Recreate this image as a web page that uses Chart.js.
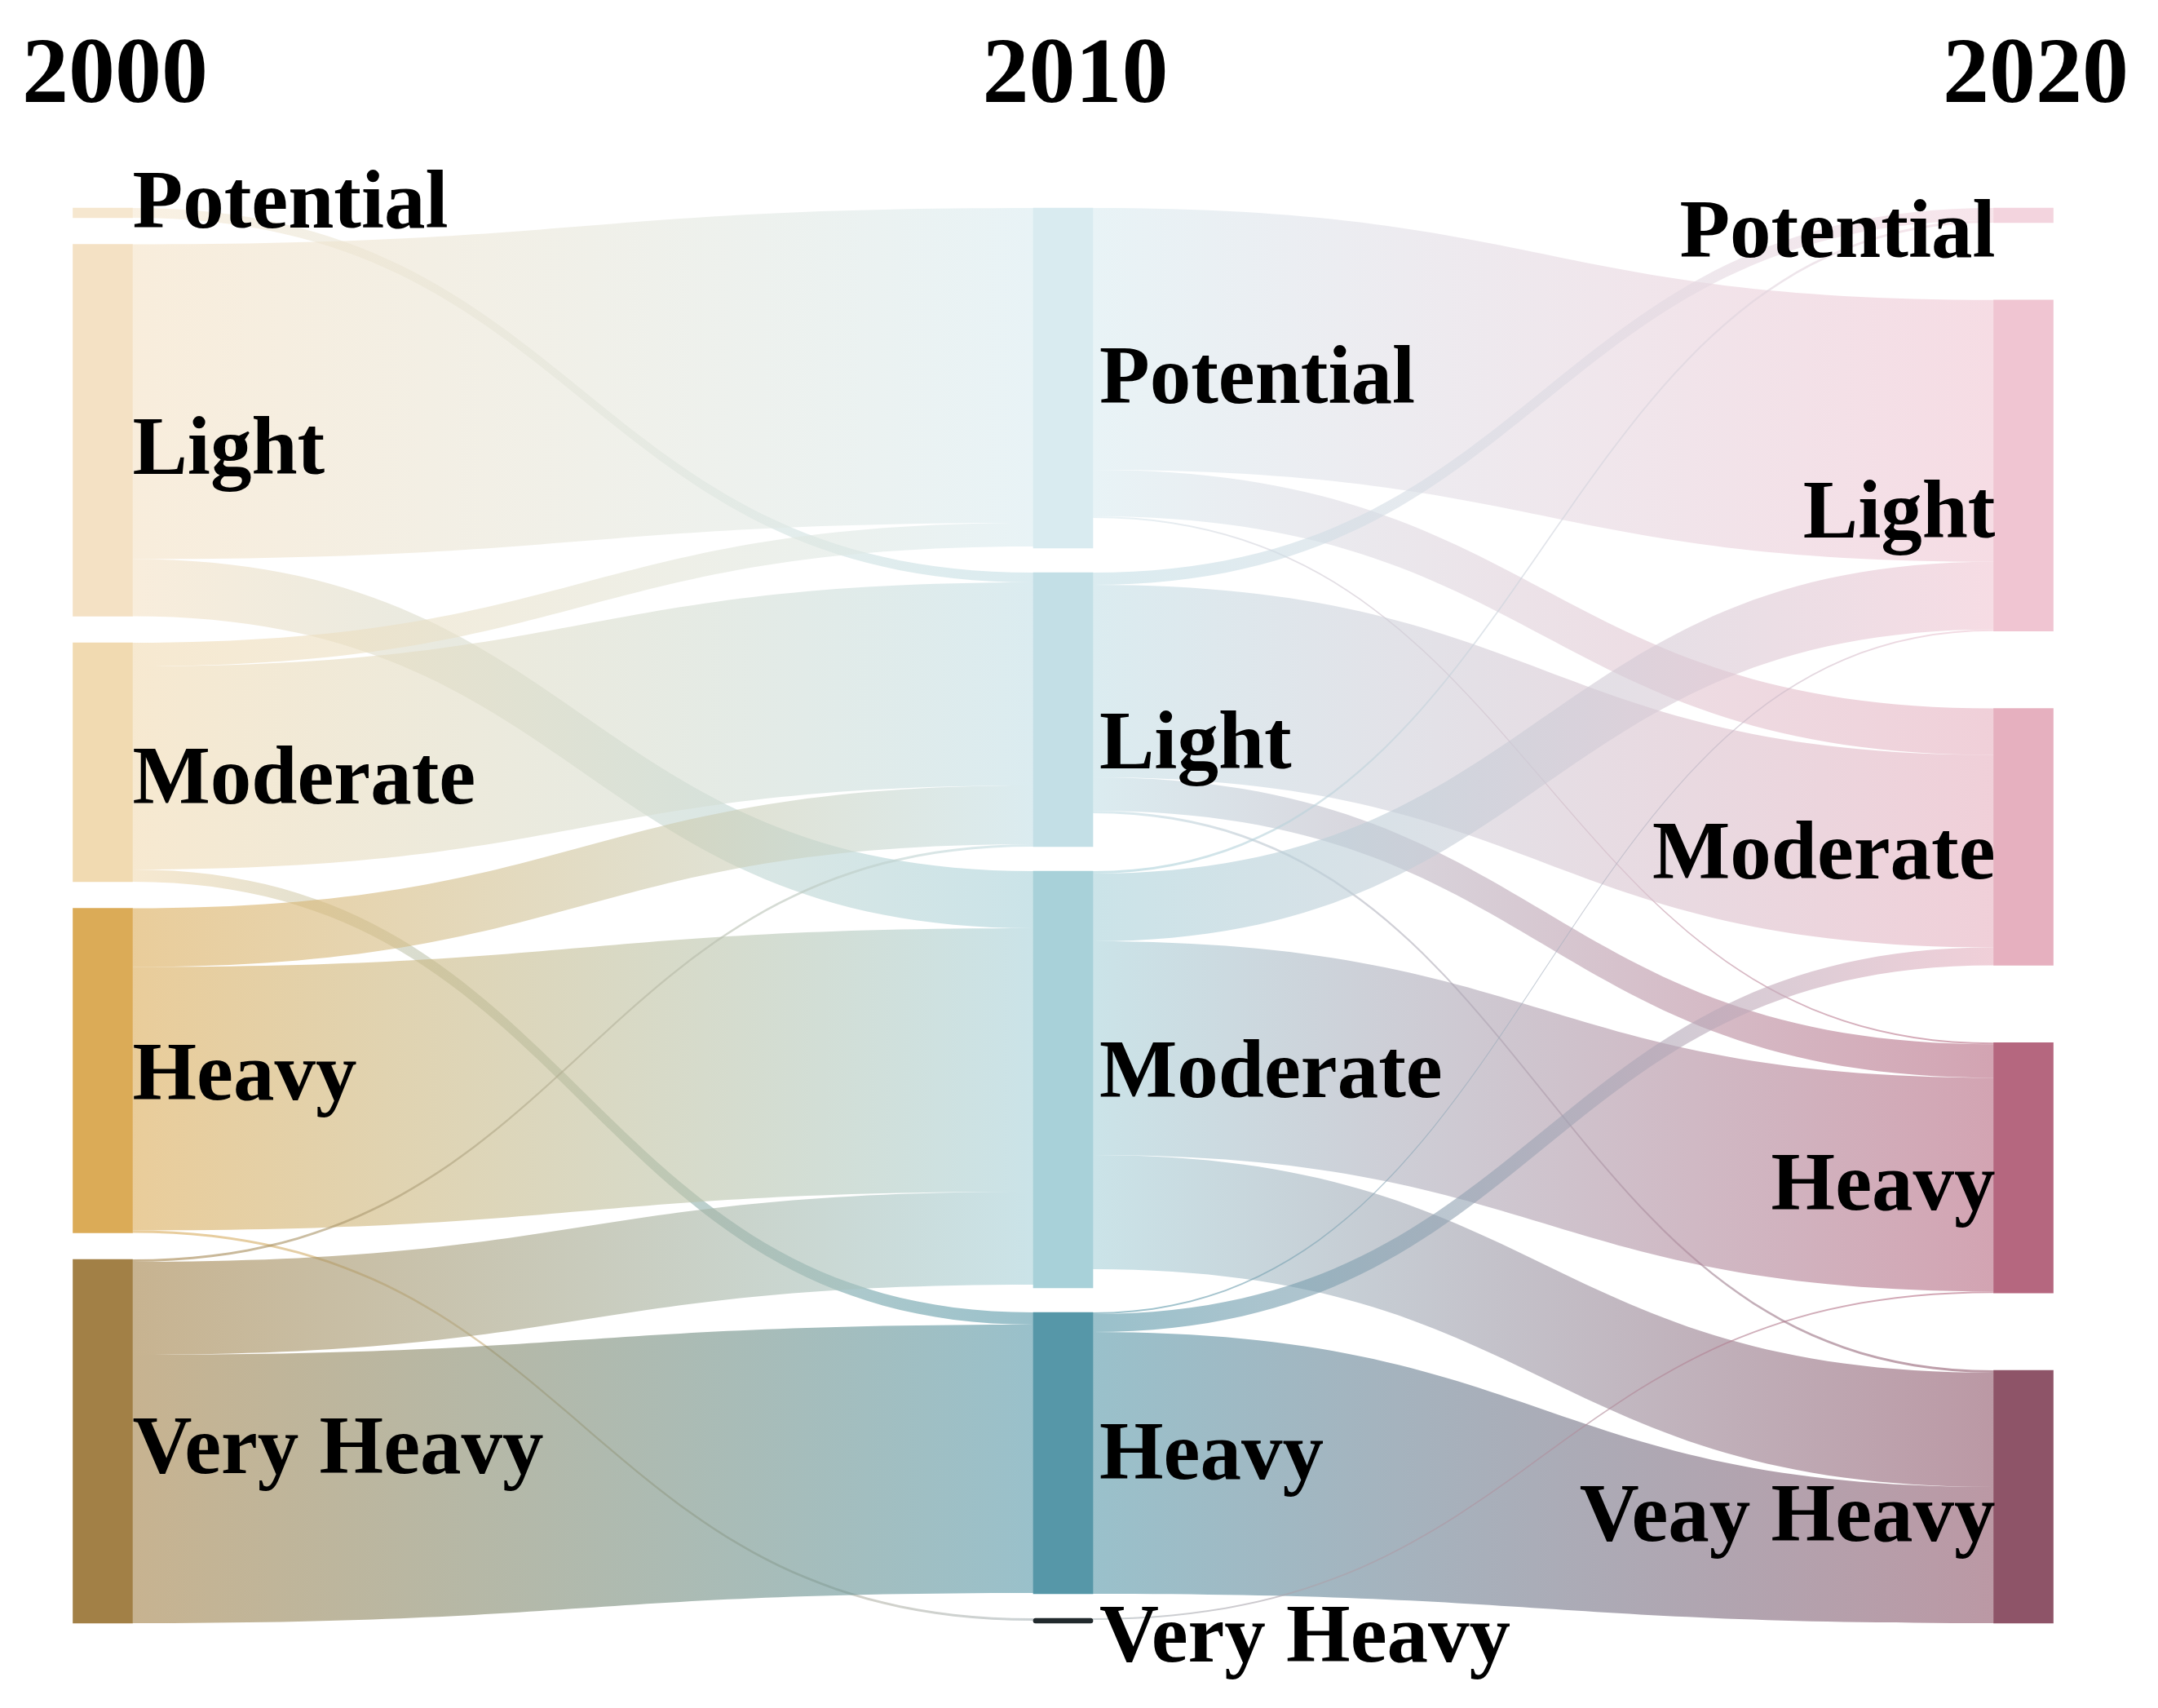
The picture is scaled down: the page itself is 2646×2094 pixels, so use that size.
<!DOCTYPE html>
<html>
<head>
<meta charset="utf-8">
<script src="https://cdn.jsdelivr.net/npm/chart.js@4.4.1/dist/chart.umd.min.js"></script>
<style>
  html, body { margin: 0; padding: 0; background: #ffffff; }
  #wrap { width: 2646px; height: 2094px; }
</style>
</head>
<body>
<div id="wrap"><canvas id="c" width="2646" height="2094"></canvas></div>
<script>
// ---------------- DATA ----------------
const years = ['2000', '2010', '2020'];
const categories = ['Potential', 'Light', 'Moderate', 'Heavy', 'Very Heavy'];
const labels2020 = ['Potential', 'Light', 'Moderate', 'Heavy', 'Veay Heavy'];

// node sizes per year (order: Potential, Light, Moderate, Heavy, Very Heavy)
const nodes2000 = [12, 456, 293, 398, 446];
const nodes2010 = [417, 336, 511, 345, 6];
const nodes2020 = [18, 406, 315, 307, 310];

// flows: rows = source class, columns = target class
const flow2000to2010 = [
  [0,   12,   0,   0, 0],
  [386,  0,  70,   0, 0],
  [29, 249,   0,  15, 0],
  [0,   72, 323,   0, 3],
  [0,    3, 114, 329, 0]
];
const flow2010to2020 = [
  [0,  321,  57,   2,   0],
  [15,   0, 236,  41,   3],
  [3,   83,   0, 262, 140],
  [0,    2,  22,   0, 321],
  [0,    0,   0,   2,   0]
];
// width of the same flows where they enter 2020 (one band narrows in the picture)
const flow2010to2020AtTarget = [
  [0,  321,  57,   2,   0],
  [15,   0, 236,  41,   3],
  [3,   83,   0, 262, 140],
  [0,    2,  22,   0, 167],
  [0,    0,   0,   2,   0]
];

// ---------------- STYLE ----------------
const nodeColors = [
  ['#f6e7cf', '#f4e1c4', '#f1dab1', '#dbab57', '#a28046'],
  ['#d9ebf0', '#c3dfe6', '#a8d1d9', '#5697a8', '#222a2d'],
  ['#f3d4de', '#f0c5d2', '#e6b0bf', '#b5677f', '#8e5468']
];
// colour used by links touching each node (the tiny dark node gets a soft grey)
const linkColors = [
  ['#f6e7cf', '#f4e1c4', '#f1dab1', '#dbab57', '#a28046'],
  ['#d9ebf0', '#c3dfe6', '#a8d1d9', '#5697a8', '#a9b4b8'],
  ['#f3d4de', '#f0c5d2', '#e6b0bf', '#b5677f', '#8e5468']
];
const linkAlpha = 0.6;
const nodeWidth = 73;
const nodePadding = 30;
const labelFont = 'bold 101px "Liberation Serif", "Times New Roman", serif';
const yearFont = 'bold 114px "Liberation Serif", "Times New Roman", serif';
// vertical shift of each label baseline from its node centre (px)
const labelBaselineShift = [
  [18, 53, 50, 35, 39],
  [30, 72, 21, 31, 50],
  [51, 88, 51, 51, 54]
];

// ---------------- LAYOUT (built from the data) ----------------
const columns = [nodes2000, nodes2010, nodes2020];
const columnLabels = [categories, categories, labels2020];
const sum = a => a.reduce((s, v) => s + v, 0);
const yMax = Math.max(...columns.map(sum)) + (categories.length - 1) * nodePadding;

const layout = columns.map(vals => {
  const gap = (yMax - sum(vals)) / (vals.length - 1);
  let y = 0;
  return vals.map(v => { const n = { y0: y, y1: y + v }; y += v + gap; return n; });
});

const flowPairs = [
  { from: 0, start: flow2000to2010, end: flow2000to2010 },
  { from: 1, start: flow2010to2020, end: flow2010to2020AtTarget }
];
const links = [];
flowPairs.forEach(p => {
  const outOff = layout[p.from].map(n => n.y0);
  const inOff = layout[p.from + 1].map(n => n.y0);
  for (let i = 0; i < p.start.length; i++) {
    for (let j = 0; j < p.start[i].length; j++) {
      const vs = p.start[i][j], ve = p.end[i][j];
      if (!vs) continue;
      links.push({ col: p.from, src: i, tgt: j, s0: outOff[i], s1: outOff[i] + vs, t0: inOff[j], t1: inOff[j] + ve });
      outOff[i] += vs;
      inOff[j] += ve;
    }
  }
});

const barData = [], barColors = [], barRadius = [];
layout.forEach((col, c) => col.forEach((n, i) => {
  barData.push({ x: c, y: [n.y0, n.y1] });
  barColors.push(nodeColors[c][i]);
  barRadius.push(c === 1 && i === 4 ? 3 : 0);
}));

function rgba(hex, a) {
  const v = parseInt(hex.slice(1), 16);
  return `rgba(${(v >> 16) & 255},${(v >> 8) & 255},${v & 255},${a})`;
}

const linkPlugin = {
  id: 'sankeyLinks',
  beforeDatasetsDraw(chart) {
    const { ctx, scales: { x, y } } = chart;
    ctx.save();
    links.forEach(l => {
      const x0 = x.getPixelForValue(l.col) + nodeWidth / 2;
      const x1 = x.getPixelForValue(l.col + 1) - nodeWidth / 2;
      const xm = (x0 + x1) / 2;
      const ys0 = y.getPixelForValue(l.s0), ys1 = y.getPixelForValue(l.s1);
      const yt0 = y.getPixelForValue(l.t0), yt1 = y.getPixelForValue(l.t1);
      const g = ctx.createLinearGradient(x0, 0, x1, 0);
      g.addColorStop(0, rgba(linkColors[l.col][l.src], linkAlpha));
      g.addColorStop(1, rgba(linkColors[l.col + 1][l.tgt], linkAlpha));
      ctx.beginPath();
      ctx.moveTo(x0, ys0);
      ctx.bezierCurveTo(xm, ys0, xm, yt0, x1, yt0);
      ctx.lineTo(x1, yt1);
      ctx.bezierCurveTo(xm, yt1, xm, ys1, x0, ys1);
      ctx.closePath();
      ctx.fillStyle = g;
      ctx.fill();
    });
    ctx.restore();
  }
};

const labelPlugin = {
  id: 'sankeyLabels',
  afterDatasetsDraw(chart) {
    const { ctx, scales: { x, y } } = chart;
    ctx.save();
    ctx.fillStyle = '#000000';
    ctx.textBaseline = 'alphabetic';
    ctx.font = labelFont;
    layout.forEach((col, c) => col.forEach((n, i) => {
      const cx = x.getPixelForValue(c);
      const cy = (y.getPixelForValue(n.y0) + y.getPixelForValue(n.y1)) / 2;
      const by = cy + labelBaselineShift[c][i];
      if (c === 2) {
        ctx.textAlign = 'right';
        ctx.fillText(columnLabels[c][i], cx - nodeWidth / 2 + 2, by);
      } else {
        ctx.textAlign = 'left';
        ctx.fillText(columnLabels[c][i], cx + nodeWidth / 2 + (c === 0 ? 0 : 8), by);
      }
    }));
    ctx.font = yearFont;
    ctx.textAlign = 'center';
    years.forEach((yr, c) => {
      ctx.fillText(yr, x.getPixelForValue(c) + 15, 125);
    });
    ctx.restore();
  }
};

new Chart(document.getElementById('c'), {
  type: 'bar',
  data: {
    datasets: [{
      data: barData,
      backgroundColor: barColors,
      borderRadius: barRadius,
      borderSkipped: false,
      borderWidth: 0,
      barThickness: nodeWidth,
      clip: false
    }]
  },
  options: {
    responsive: false,
    maintainAspectRatio: false,
    animation: false,
    devicePixelRatio: 1,
    layout: { padding: { left: 126, right: 165, top: 255, bottom: 104 } },
    scales: {
      x: { type: 'linear', min: 0, max: 2, offset: false, display: false },
      y: { type: 'linear', min: 0, max: yMax, reverse: true, display: false }
    },
    plugins: { legend: { display: false }, tooltip: { enabled: false } }
  },
  plugins: [linkPlugin, labelPlugin]
});
</script>
</body>
</html>
